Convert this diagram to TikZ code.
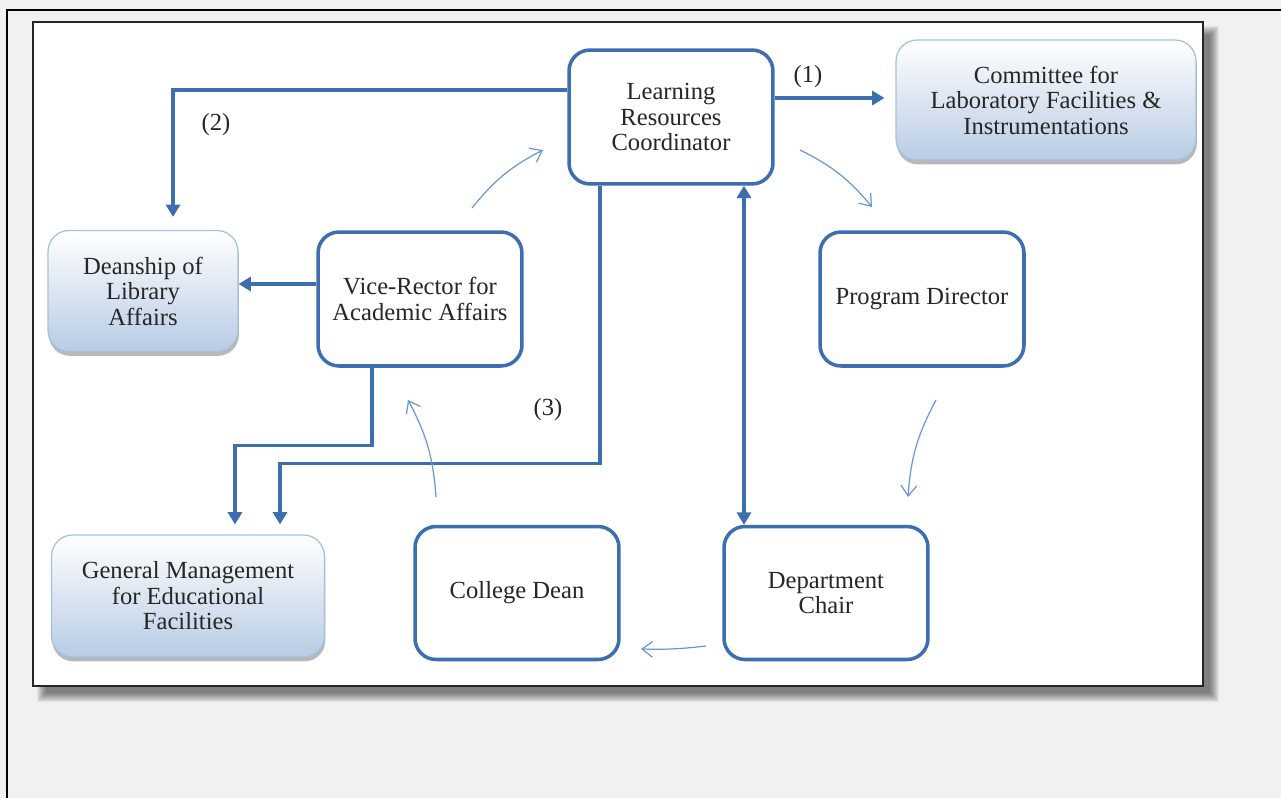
\documentclass[tikz,border=0pt]{standalone}
\usepackage{fontspec}
\setmainfont{Liberation Serif}
\usetikzlibrary{arrows.meta,shadows}
\definecolor{bblue}{RGB}{60,110,176}
\definecolor{tblue}{RGB}{105,152,210}
\definecolor{gbord}{RGB}{165,192,226}
\definecolor{gbot}{RGB}{184,204,228}
\definecolor{bgc}{RGB}{241,241,241}
\begin{document}
\begin{tikzpicture}[x=0.02cm,y=-0.02cm,
  mainbox/.style={draw=bblue, line width=2pt, rounded corners=0.42cm, fill=white, align=center,
    minimum width=4.08cm, minimum height=2.68cm, text=black!85, font=\fontsize{14}{14.5}\selectfont},
  gradbox/.style={draw=gbord, line width=0.7pt, rounded corners=0.42cm, top color=white, bottom color=gbot,
    align=center, text=black!85, font=\fontsize{14}{14.5}\selectfont,
    drop shadow={shadow xshift=0.5pt, shadow yshift=-2.5pt, fill=black!55, opacity=0.5}},
  thickarr/.style={draw=bblue, line width=1.8pt, -{Triangle[length=7pt,width=8pt]}},
  thinarr/.style={draw=tblue, line width=0.7pt, -{Straight Barb[length=6pt,width=9pt]}},
  lbl/.style={text=black!85, font=\fontsize{14}{14.5}\selectfont}
]
\useasboundingbox (0,0) rectangle (1281,798);
\fill[bgc] (0,0) rectangle (1281,798);
\draw[black, line width=1.2pt] (7,798) -- (7,10) -- (1281,10);
% panel shadow
\foreach \k in {0,...,9} {
  \fill[black, opacity=0.06] (37+\k,26+\k) rectangle (1219-\k,702-\k);
}
\draw[fill=white, draw=black!85, line width=1.3pt] (33,22) rectangle (1203,686);

% nodes
\node[mainbox] (lrc) at (671,117) {Learning\\Resources\\Coordinator};
\node[gradbox, minimum width=6cm, minimum height=2.4cm] (comm) at (1046,100) {Committee for\\Laboratory Facilities \&\\Instrumentations};
\node[gradbox, minimum width=3.8cm, minimum height=2.42cm] (dean) at (143,291) {Deanship of\\Library\\Affairs};
\node[mainbox] (vice) at (420,299) {Vice-Rector for\\Academic Affairs};
\node[mainbox] (prog) at (922,299) {Program Director};
\node[gradbox, minimum width=5.46cm, minimum height=2.44cm] (gm) at (188,596) {General Management\\for Educational\\Facilities};
\node[mainbox, minimum height=2.66cm] (college) at (517,593) {College Dean};
\node[mainbox, minimum height=2.66cm] (dept) at (826,593) {Department\\Chair};

% labels
\node[lbl] (l1) at (808,77) {(1)};
\node[lbl] (l2) at (216,125) {(2)};
\node[lbl] (l3) at (548,410) {(3)};

% thick connectors
\draw[thickarr, shorten >=0.22cm] ([yshift=0.38cm]lrc.east) -- ([yshift=0.38cm]lrc.east -| comm.west);
\draw[thickarr] ([yshift=0.54cm]lrc.west) -| ([xshift=0.6cm,yshift=0.26cm]dean.north);
\draw[thickarr] ([yshift=0.3cm]vice.west) -- ([yshift=0.3cm]vice.west -| dean.east);
\draw[thickarr] ([xshift=-0.96cm]vice.south) -- ++(0,78) -| ([xshift=0.94cm,yshift=0.2cm]gm.north);
\draw[thickarr] ([xshift=-1.42cm]lrc.south) -- ++(0,278) -| ([xshift=1.84cm,yshift=0.2cm]gm.north);
\draw[thickarr, {Triangle[length=7pt,width=8pt]}-{Triangle[length=7pt,width=8pt]}] ([xshift=1.46cm]lrc.south) -- ([xshift=1.46cm]lrc.south |- dept.north);

% thin curved connectors
\coordinate (a1) at (472,208); \coordinate (a2) at (543,150);
\coordinate (b1) at (800,150); \coordinate (b2) at (872,207);
\coordinate (c1) at (936,400); \coordinate (c2) at (908,497);
\coordinate (d1) at (706,646); \coordinate (d2) at (641,649);
\coordinate (e1) at (436,497); \coordinate (e2) at (408,400);
\draw[thinarr] (a1) to[bend left=12] (a2);
\draw[thinarr] (b1) to[bend left=12] (b2);
\draw[thinarr] (c1) to[bend right=12] (c2);
\draw[thinarr] (d1) to[bend left=4] (d2);
\draw[thinarr] (e1) to[bend right=12] (e2);
\end{tikzpicture}
\end{document}
